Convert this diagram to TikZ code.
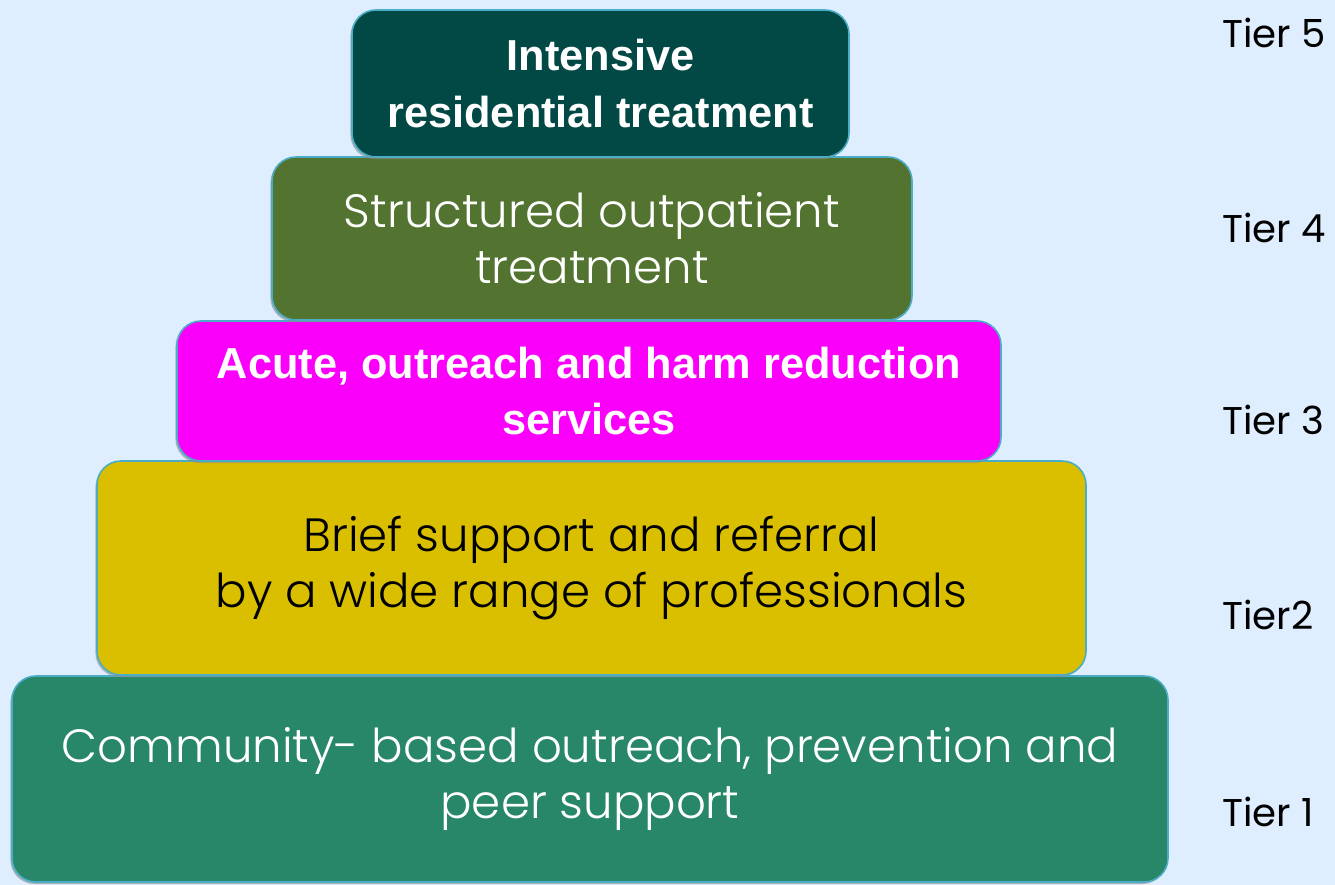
\documentclass[tikz,border=0pt]{standalone}
\usepackage{fontspec}
\setmainfont{Poppins}[UprightFont=* Light]
\newfontfamily\tiersans{Poppins}
\newfontfamily\boldsans{Liberation Sans}[BoldFont=* Bold]
\usetikzlibrary{shadows}

\definecolor{pagebg}{RGB}{222,238,255}
\definecolor{edgeblue}{RGB}{75,172,198}
\definecolor{tierfive}{RGB}{2,72,69}
\definecolor{tierfour}{RGB}{82,116,48}
\definecolor{tierthree}{RGB}{250,0,250}
\definecolor{tiertwo}{RGB}{217,191,0}
\definecolor{tierone}{RGB}{40,135,105}

\begin{document}
\begin{tikzpicture}[x=0.75pt, y=-0.75pt,
    tier/.style={rectangle, rounded corners=18pt, draw=edgeblue, line width=1.2pt,
      align=center, inner sep=0pt,
      drop shadow={shadow xshift=-1.2pt, shadow yshift=-1.5pt, fill=black!45, opacity=0.6}},
    lighttext/.style={font=\fontsize{35}{42}\selectfont},
    boldtext/.style={font=\boldsans\bfseries\fontsize{32.5}{42.5}\selectfont},
    tierlabel/.style={anchor=west, inner sep=0pt, font=\tiersans\fontsize{29}{32}\selectfont}]
  \fill[pagebg] (0,0) rectangle (1335,885);
  \useasboundingbox (0,0) rectangle (1335,885);

  % the five levels, widest at the bottom
  \node[tier, fill=tierone, text=white, lighttext, minimum width=1156*0.75pt, minimum height=206*0.75pt]
    (t1) at (590,779) {Community- based outreach, prevention and\\peer support};
  \node[tier, fill=tiertwo, text=black, lighttext, minimum width=989*0.75pt, minimum height=214*0.75pt]
    (t2) at (591.5,568) {Brief support and referral\\by a wide range of professionals};
  \node[tier, fill=tierthree, text=white, boldtext, minimum width=824*0.75pt, minimum height=140*0.75pt]
    (t3) at (589,391) {Acute, outreach and harm reduction\\services};
  \node[tier, fill=tierfour, text=white, lighttext, minimum width=640*0.75pt, minimum height=163*0.75pt]
    (t4) at (592,238.5) {Structured outpatient\\treatment};
  \node[tier, fill=tierfive, text=white, boldtext, minimum width=497*0.75pt, minimum height=147*0.75pt]
    (t5) at (600.5,83.5) {Intensive\\residential treatment};

  % tier numbers down the right side
  \node[tierlabel] (n5) at (1222,33) {Tier 5};
  \node[tierlabel] (n4) at (1222,228) {Tier 4};
  \node[tierlabel] (n3) at (1222,420) {Tier 3};
  \node[tierlabel] (n2) at (1222,615) {Tier2};
  \node[tierlabel] (n1) at (1222,812) {Tier 1};
\end{tikzpicture}
\end{document}
